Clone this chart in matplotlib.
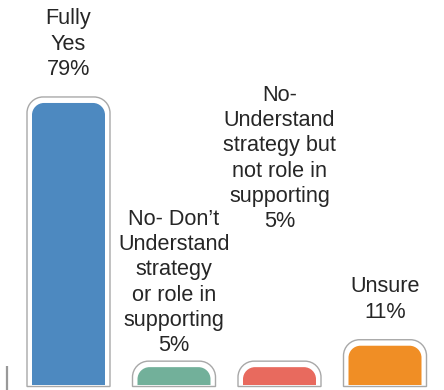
import matplotlib
matplotlib.use("Agg")
import matplotlib.pyplot as plt
from matplotlib.path import Path
from matplotlib.patches import PathPatch

# Survey answers and their shares (%)
categories = [
    "Fully\nYes",
    "No- Don\u2019t\nUnderstand\nstrategy\nor role in\nsupporting",
    "No-\nUnderstand\nstrategy but\nnot role in\nsupporting",
    "Unsure",
]
values = [79, 5, 5, 11]
colors = ["#4d89c0", "#72b09a", "#e86a5e", "#f08e25"]

# label lift above each bar top, in pixels
label_lift = [28, 16, 140, 28]

W, H, DPI = 444, 390, 100
fig = plt.figure(figsize=(W / DPI, H / DPI), dpi=DPI)
fig.patch.set_facecolor("white")

PX_PER_UNIT_X = 105.5      # pixel spacing between bar centres
PX_PER_PCT = 3.57          # pixels per percentage point
BASE_PX = 5                # baseline height above figure bottom
FIRST_X_PX = 68.5          # centre of first bar from left edge

ax = fig.add_axes([0, BASE_PX / H, 1, 1 - BASE_PX / H])
ax.set_xlim(-FIRST_X_PX / PX_PER_UNIT_X, (W - FIRST_X_PX) / PX_PER_UNIT_X)
ax.set_ylim(0, (H - BASE_PX) / PX_PER_PCT)
ax.axis("off")


def top_rounded(x0, x1, y0, y1, r_px):
    """Closed path of a box with rounded top corners (radius in pixels)."""
    rx = r_px / PX_PER_UNIT_X
    ry = r_px / PX_PER_PCT
    rx = min(rx, (x1 - x0) / 2)
    ry = min(ry, max(y1 - y0, 1e-6))
    k = 0.5523
    verts = [
        (x0, y0),
        (x0, y1 - ry),
        (x0, y1 - ry + k * ry), (x0 + rx - k * rx, y1), (x0 + rx, y1),
        (x1 - rx, y1),
        (x1 - rx + k * rx, y1), (x1, y1 - ry + k * ry), (x1, y1 - ry),
        (x1, y0),
        (x0, y0),
    ]
    codes = [Path.MOVETO, Path.LINETO,
             Path.CURVE4, Path.CURVE4, Path.CURVE4,
             Path.LINETO,
             Path.CURVE4, Path.CURVE4, Path.CURVE4,
             Path.LINETO, Path.CLOSEPOLY]
    return Path(verts, codes)


bar_w = 73 / PX_PER_UNIT_X
pad_x = 5 / PX_PER_UNIT_X
pad_y = 6 / PX_PER_PCT
drop = 1.5 / PX_PER_PCT

for i, (cat, v, c, lift) in enumerate(zip(categories, values, colors, label_lift)):
    x0, x1 = i - bar_w / 2, i + bar_w / 2
    # outer frame
    ax.add_patch(PathPatch(top_rounded(x0 - pad_x, x1 + pad_x, -drop, v + pad_y, 16),
                           facecolor="white", edgecolor="#a8a8a8", lw=1.0,
                           clip_on=False, zorder=1))
    # filled bar
    ax.add_patch(PathPatch(top_rounded(x0, x1, 0, v, 12),
                           facecolor=c, edgecolor="none", clip_on=False, zorder=2))
    ax.annotate(f"{cat}\n{v}%", xy=(i, v), xytext=(0, lift),
                textcoords="offset pixels", ha="center", va="baseline",
                fontsize=15.6, family="Liberation Sans",
                color="#262626", linespacing=1.27, multialignment="center")

# short axis stub at the lower left
stub_x = (7 - FIRST_X_PX) / PX_PER_UNIT_X
ax.plot([stub_x, stub_x], [-BASE_PX / PX_PER_PCT, 19 / PX_PER_PCT],
        color="#999999", lw=1.6, clip_on=False, solid_capstyle="butt")

fig.savefig("out.png", dpi=DPI, facecolor="white")
